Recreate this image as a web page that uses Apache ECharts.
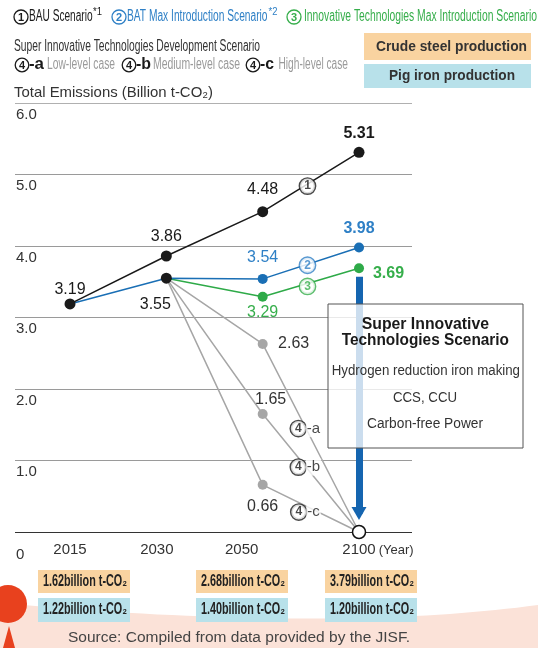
<!DOCTYPE html>
<html><head><meta charset="utf-8">
<script src="https://cdn.jsdelivr.net/npm/echarts@6/dist/echarts.min.js"></script>
<style>html,body{margin:0;padding:0;background:#fff}#c{width:538px;height:648px}</style>
</head><body><div id="c"></div>
<script>
// ---------------- data ----------------
const categories = ['2015', '2030', '2050', '2100'];
const bauValues = [3.19, 3.86, 4.48, 5.31];
const batValues = [3.19, 3.55, 3.54, 3.98];
const innovValues = [null, 3.55, 3.29, 3.69];
const superLow = [null, 3.55, 2.63, 0];
const superMid = [null, 3.55, 1.65, 0];
const superHigh = [null, 3.55, 0.66, 0];
const yTicks = [0, 1, 2, 3, 4, 5, 6];
const productionYears = ['2015', '2050', '2100'];
const crudeSteel = ['1.62', '2.68', '3.79'];
const pigIron = ['1.22', '1.40', '1.20'];

// ---------------- helpers ----------------
const cv = document.createElement('canvas').getContext('2d');
function tw(text, font) { cv.font = font; return cv.measureText(text).width; }
function hasFont(name) {
  const s = 'abcdefghijklmnopqrstuvwxyz0123456789ABCDEFG';
  return tw(s, '20px "' + name + '", monospace') !== tw(s, '20px monospace');
}
const SANS = '"Liberation Sans", Arial, Helvetica, sans-serif';
const NARROW_OK = hasFont('Liberation Sans Narrow');
const COND = NARROW_OK ? '"Liberation Sans Narrow", "Liberation Sans", sans-serif' : SANS;

const COL = {
  black: '#1a1a1a', blue: '#1a6fb5', blueText: '#2f80c6', green: '#2eaa48', greenText: '#36ae4b',
  gray: '#a6a6a6', grayText: '#333333', arrow: '#1565b0', orange: '#f9d3a0', lightBlue: '#b8e1ea',
  pink: '#fbe2d8', red: '#e8411e', axisText: '#333333'
};

function txt(text, left, right, cy, size, color, opts) {
  opts = opts || {};
  const font = (opts.weight || 'normal') + ' ' + size + 'px ' + (opts.family || SANS);
  const w = tw(text, font);
  const sx = (right - left) / w;
  return {
    type: 'text', x: left, y: cy, scaleX: sx, scaleY: 1, originX: 0, originY: 0, z: opts.z || 20, silent: true,
    style: { text: text, font: font, fill: color, x: 0, y: 0, textAlign: 'left', textVerticalAlign: 'middle', align: 'left', verticalAlign: 'middle' }
  };
}
function circNum(cx, cy, r, digit, color, size) {
  return [
    { type: 'circle', shape: { cx: cx, cy: cy, r: r }, style: { fill: '#fff', stroke: color, lineWidth: 1.3 }, z: 20, silent: true },
    { type: 'text', x: cx, y: cy + 0.5, z: 21, silent: true,
      style: { text: digit, font: 'bold ' + size + 'px ' + SANS, fill: color, textAlign: 'center', textVerticalAlign: 'middle', align: 'center', verticalAlign: 'middle' } }
  ];
}
function rect(x, y, w, h, fill, z) {
  return { type: 'rect', shape: { x: x, y: y, width: w, height: h }, style: { fill: fill }, z: z || 10, silent: true };
}

// ---------------- graphics (legend / notes) ----------------
const g = [];
// background swoosh (quadratic curve sampled as polygon) + red marker
const swoosh = [];
for (let k = 0; k <= 40; k++) {
  const t = k / 40;
  swoosh.push([2 * t * (1 - t) * 330 + t * t * 538, (1 - t) * (1 - t) * 603 + 2 * t * (1 - t) * 633 + t * t * 605]);
}
swoosh.push([538, 648], [0, 648]);
g.push({ type: 'polygon', shape: { points: swoosh }, style: { fill: COL.pink }, z: 1, silent: true });
g.push({ type: 'circle', shape: { cx: 8, cy: 604, r: 19 }, style: { fill: COL.red }, z: 2, silent: true });
g.push({ type: 'polygon', shape: { points: [[9, 626], [3, 648], [15, 648]] }, style: { fill: COL.red }, z: 2, silent: true });

// line 1
g.push(...circNum(21, 17, 7, '1', COL.black, 11));
g.push(txt('BAU Scenario', 29, 92.6, 17, 16, COL.black, { family: COND }));
g.push(txt('*1', 93, 102, 12, 10, COL.black, { family: COND }));
g.push(...circNum(119, 17, 7, '2', COL.blueText, 11));
g.push(txt('BAT Max Introduction Scenario', 127, 267.5, 17, 16, COL.blueText, { family: COND }));
g.push(txt('*2', 268.6, 277.5, 12, 10, COL.blueText, { family: COND }));
g.push(...circNum(294, 17, 7, '3', COL.greenText, 11));
g.push(txt('Innovative Technologies Max Introduction Scenario', 304, 537, 17, 16, COL.greenText, { family: COND }));
// line 2
g.push(txt('Super Innovative Technologies Development Scenario', 14, 260, 47, 16, '#333', { family: COND }));
// line 3
[[22, '-a', 29, 44, 'Low-level case', 47, 115], [129, '-b', 136, 151, 'Medium-level case', 153, 240], [253, '-c', 260, 274, 'High-level case', 278.5, 348]]
  .forEach(function (c) {
    g.push(...circNum(c[0], 65, 6.8, '4', COL.black, 11));
    g.push(txt(c[1], c[2], c[3], 65, 16, COL.black, { family: COND, weight: 'bold' }));
    g.push(txt(c[4], c[5], c[6], 65, 16, '#9a9a9a', { family: COND }));
  });
// y-axis title
g.push(txt('Total Emissions (Billion t-CO₂)', 14, 213, 93, 15, '#333'));
// production legend boxes
g.push(rect(364, 33, 167, 27, COL.orange, 10));
g.push(txt('Crude steel production', 376, 527, 47, 15, '#333', { weight: 'bold' }));
g.push(rect(364, 64, 167, 24, COL.lightBlue, 10));
g.push(txt('Pig iron production', 389, 515, 76, 15, '#333', { weight: 'bold' }));

// bottom production values
const prodCols = [[38, 130], [196, 288], [325, 417]];
productionYears.forEach(function (yr, i) {
  const c = prodCols[i];
  g.push(rect(c[0], 570, c[1] - c[0], 23, COL.orange, 10));
  g.push(txt(crudeSteel[i] + 'billion t-CO₂', c[0] + 5, c[1] - 3, 581.5, 16, '#222', { family: COND, weight: 'bold' }));
  g.push(rect(c[0], 598, c[1] - c[0], 24, COL.lightBlue, 10));
  g.push(txt(pigIron[i] + 'billion t-CO₂', c[0] + 5, c[1] - 3, 610, 16, '#222', { family: COND, weight: 'bold' }));
});
// source
g.push(txt('Source: Compiled from data provided by the JISF.', 68, 410, 638, 14, '#444'));

// scenario box
g.push({ type: 'rect', shape: { x: 328, y: 304, width: 195, height: 144 }, style: { fill: 'rgba(255,255,255,0.78)', stroke: '#555', lineWidth: 1 }, z: 50, silent: true });
g.push(txt('Super Innovative', 361.7, 489, 325, 16, '#1a1a1a', { weight: 'bold', z: 51 }));
g.push(txt('Technologies Scenario', 341.7, 509, 341, 16, '#1a1a1a', { weight: 'bold', z: 51 }));
g.push(txt('Hydrogen reduction iron making', 331.7, 520, 371, 14, '#333', { z: 51 }));
g.push(txt('CCS, CCU', 393, 457, 398, 14, '#333', { z: 51 }));
g.push(txt('Carbon-free Power', 367, 483, 424, 14, '#333', { z: 51 }));

// ---------------- series ----------------
const offsets = {
  bau: [[0, -14], [0, -19], [0, -22], [0, -19]],
  bat: [null, [-11, 26], [0, -21], [0, -19]],
  innov: [null, null, [0, 16], [29.5, 5]],
  low: [null, null, [31, 0], null],
  mid: [null, null, [8, -14], null],
  high: [null, null, [0, 22], null]
};
function lbl(off, color, bold, extra) {
  return Object.assign({
    show: true, position: 'inside', offset: off, color: color, fontFamily: SANS, fontSize: 16,
    fontWeight: bold ? 'bold' : 'normal', formatter: function (p) { return p.value[1].toFixed(2); }
  }, extra || {});
}
function baseLine(name, color) {
  return {
    type: 'line', name: name, silent: true, emphasis: { disabled: true },
    symbol: 'circle', symbolSize: 10, lineStyle: { color: color, width: 1.5 }, itemStyle: { color: color }, z: 2
  };
}
function superSeries(name, vals, off, isLast) {
  const s = baseLine(name, COL.gray);
  s.data = [];
  vals.forEach(function (v, i) {
    if (v == null) return;
    const d = { value: [i, v] };
    if (i === 1) d.symbol = 'none';
    if (i === 2) d.label = lbl(off[i], COL.grayText, false);
    if (i === 3) {
      if (isLast) { d.symbolSize = 13; d.itemStyle = { color: '#fff', borderColor: '#111', borderWidth: 1.5 }; }
      else d.symbol = 'none';
    }
    s.data.push(d);
  });
  return s;
}
const sLow = superSeries('4-a', superLow, offsets.low, false);
const sMid = superSeries('4-b', superMid, offsets.mid, false);
const sHigh = superSeries('4-c', superHigh, offsets.high, true);

const sInnov = baseLine('3', COL.green);
sInnov.data = [];
innovValues.forEach(function (v, i) {
  if (v == null) return;
  const d = { value: [i, v] };
  if (i === 1) d.symbol = 'none';
  else d.label = lbl(offsets.innov[i], COL.greenText, i === 3);
  sInnov.data.push(d);
});
// arrow toward zero emissions in 2100
sInnov.markLine = {
  silent: true, animation: false, symbol: ['none', 'triangle'], symbolSize: [15, 13],
  label: { show: false }, emphasis: { disabled: true },
  lineStyle: { color: COL.arrow, width: 7, type: 'solid' },
  data: [[{ coord: [3, innovValues[3] - 0.12] }, { coord: [3, 0.26] }]]
};

const sBat = baseLine('2', COL.blue);
sBat.data = batValues.map(function (v, i) {
  const d = { value: [i, v] };
  if (i === 0) d.symbol = 'none';
  else if (i === 1) { d.symbolSize = 11; d.itemStyle = { color: COL.black }; d.label = lbl(offsets.bat[i], COL.black, false); }
  else d.label = lbl(offsets.bat[i], COL.blueText, i === 3);
  return d;
});

const sBau = baseLine('1', COL.black);
sBau.symbolSize = 11;
sBau.data = bauValues.map(function (v, i) {
  return { value: [i, v], label: lbl(offsets.bau[i], COL.black, i === 3) };
});

// circled scenario markers placed along the segments
function along(vals, i0, t) { return [i0 + t, vals[i0] + t * (vals[i0 + 1] - vals[i0])]; }
const annot = [
  { num: '1', suffix: '', pos: along(bauValues, 2, 0.465), color: COL.black, off: [0, 2] },
  { num: '2', suffix: '', pos: along(batValues, 2, 0.465), color: COL.blueText, off: [0, 1] },
  { num: '3', suffix: '', pos: along(innovValues, 2, 0.465), color: COL.greenText, off: [0, 3] },
  { num: '4', suffix: '-a', pos: along(superLow, 2, 0.45), color: COL.black, off: [0, 0] },
  { num: '4', suffix: '-b', pos: along(superMid, 2, 0.45), color: COL.black, off: [0, 0] },
  { num: '4', suffix: '-c', pos: along(superHigh, 2, 0.45), color: COL.black, off: [0, 6] }
];
const sAnnot = {
  type: 'scatter', silent: true, z: 5, symbolSize: 1, itemStyle: { color: 'rgba(0,0,0,0)' }, emphasis: { disabled: true },
  data: annot.map(function (a) {
    const cStyle = { width: 15, height: 15, lineHeight: 15, align: 'center', borderRadius: 8, borderWidth: 1.4,
      borderColor: a.color, backgroundColor: '#fff', fontSize: 12, fontWeight: 'bold', color: a.color, fontFamily: SANS };
    return {
      value: a.pos,
      label: {
        show: true, position: 'inside', offset: a.off,
        formatter: a.suffix ? '{c|' + a.num + '}{t|' + a.suffix + '}' : '{c|' + a.num + '}',
        rich: { c: cStyle, t: { fontSize: 15, color: COL.black, backgroundColor: '#fff', fontFamily: SANS, padding: [1, 1, 1, 1], lineHeight: 15 } }
      }
    };
  })
};

// ---------------- axes ----------------
const yearFont = NARROW_OK ? 17 : 15;
const yearW = tw('(Year)', '13px ' + COND) + 3;
const yearRich = {
  y0: {}, y1: { padding: [0, 19, 0, 0] }, y2: { padding: [0, 42, 0, 0] }, y3: { padding: [0, 0, 0, yearW] },
  u: { fontSize: 13, fontFamily: COND, color: '#333', padding: [2, 0, 0, 3] }
};

const option = {
  animation: false,
  backgroundColor: '#fff',
  grid: { left: 15, right: 126, top: 103, bottom: 116, containLabel: false, outerBoundsMode: 'none' },
  xAxis: {
    type: 'value', min: -0.571, max: 3.55,
    axisLine: { show: false }, axisTick: { show: false }, splitLine: { show: false },
    axisLabel: {
      customValues: [0, 1, 2, 3], margin: 10, fontFamily: COND, fontSize: yearFont, color: '#333',
      formatter: function (v) {
        const i = Math.round(v);
        return i === 3 ? '{y3|' + categories[3] + '}{u|(Year)}' : '{y' + i + '|' + categories[i] + '}';
      },
      rich: yearRich
    }
  },
  yAxis: {
    type: 'value', min: yTicks[0], max: yTicks[yTicks.length - 1], interval: 1,
    axisLine: { show: false }, axisTick: { show: false },
    axisLabel: {
      inside: true, margin: 1, verticalAlign: 'top', fontSize: 15, color: COL.axisText, fontFamily: SANS, padding: [4, 0, 0, 0],
      formatter: function (v) { return v === 0 ? '{z|0}' : v.toFixed(1); },
      rich: { z: { padding: [11, 0, 0, 0], fontSize: 15, color: COL.axisText, fontFamily: SANS } }
    },
    splitLine: { lineStyle: { color: ['#333', '#9a9a9a', '#9a9a9a', '#9a9a9a', '#9a9a9a', '#9a9a9a', '#b0b0b0'], width: 1 } }
  },
  series: [sLow, sMid, sHigh, sInnov, sBat, sBau, sAnnot],
  graphic: { elements: g }
};

const chart = echarts.init(document.getElementById('c'), null, { renderer: 'canvas', width: 538, height: 648 });
chart.setOption(option);
</script>
</body></html>
